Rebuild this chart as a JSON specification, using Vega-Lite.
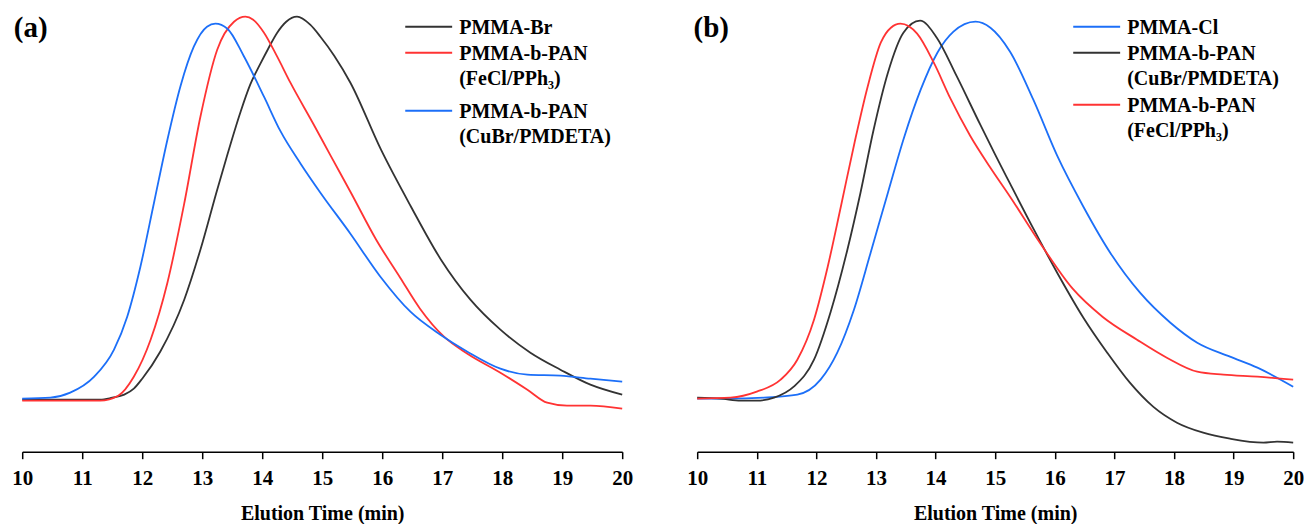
{
  "$schema": "https://vega.github.io/schema/vega-lite/v6.json",
  "padding": {"left": 11.2, "top": 11.7, "right": 0, "bottom": 0},
  "background": "white",
  "spacing": 75,
  "bounds": "flush",
  "config": {
    "view": {"stroke": null},
    "font": "Liberation Serif",
    "axis": {
      "domainColor": "black", "domainWidth": 1.5,
      "tickColor": "black", "tickWidth": 1.5, "tickSize": 7,
      "labelFont": "Liberation Serif", "labelFontSize": 21, "labelFontWeight": "bold", "labelColor": "black",
      "labelPadding": 9, "labelFlush": false, "labelOverlap": false,
      "titleFont": "Liberation Serif", "titleFontSize": 20, "titleFontWeight": "bold", "titleColor": "black",
      "titlePadding": 15, "grid": false
    },
    "legend": {
      "orient": "none", "title": null, "padding": 0,
      "symbolType": "stroke", "symbolSize": 2200, "symbolStrokeWidth": 2,
      "labelFont": "Liberation Serif", "labelFontSize": 20, "labelFontWeight": "bold", "labelColor": "black",
      "labelBaseline": "top", "labelOffset": 6, "labelLimit": 300, "rowPadding": 5
    }
  },
  "datasets": {
    "a": [
      {"series": "PMMA-Br", "t": 10, "v": 52}, {"series": "PMMA-Br", "t": 10.5, "v": 52}, {"series": "PMMA-Br", "t": 11, "v": 52}, {"series": "PMMA-Br", "t": 11.3, "v": 52}, {"series": "PMMA-Br", "t": 11.5, "v": 54}, {"series": "PMMA-Br", "t": 11.7, "v": 57}, {"series": "PMMA-Br", "t": 11.86, "v": 63}, {"series": "PMMA-Br", "t": 12, "v": 73}, {"series": "PMMA-Br", "t": 12.3, "v": 100}, {"series": "PMMA-Br", "t": 12.7, "v": 152}, {"series": "PMMA-Br", "t": 12.97, "v": 202}, {"series": "PMMA-Br", "t": 13.25, "v": 262}, {"series": "PMMA-Br", "t": 13.4, "v": 293}, {"series": "PMMA-Br", "t": 13.64, "v": 340}, {"series": "PMMA-Br", "t": 13.8, "v": 367}, {"series": "PMMA-Br", "t": 13.97, "v": 388}, {"series": "PMMA-Br", "t": 14.1, "v": 403}, {"series": "PMMA-Br", "t": 14.25, "v": 419}, {"series": "PMMA-Br", "t": 14.4, "v": 430}, {"series": "PMMA-Br", "t": 14.58, "v": 435}, {"series": "PMMA-Br", "t": 14.8, "v": 427}, {"series": "PMMA-Br", "t": 14.97, "v": 415}, {"series": "PMMA-Br", "t": 15.2, "v": 396}, {"series": "PMMA-Br", "t": 15.47, "v": 369}, {"series": "PMMA-Br", "t": 15.98, "v": 302}, {"series": "PMMA-Br", "t": 16.48, "v": 245}, {"series": "PMMA-Br", "t": 16.98, "v": 192}, {"series": "PMMA-Br", "t": 17.47, "v": 152}, {"series": "PMMA-Br", "t": 17.97, "v": 122}, {"series": "PMMA-Br", "t": 18.47, "v": 99}, {"series": "PMMA-Br", "t": 18.97, "v": 82}, {"series": "PMMA-Br", "t": 19.47, "v": 67}, {"series": "PMMA-Br", "t": 20, "v": 57},

      {"series": "PMMA-b-PAN|(FeCl/PPh₃)", "t": 10, "v": 51}, {"series": "PMMA-b-PAN|(FeCl/PPh₃)", "t": 10.5, "v": 51}, {"series": "PMMA-b-PAN|(FeCl/PPh₃)", "t": 11, "v": 51}, {"series": "PMMA-b-PAN|(FeCl/PPh₃)", "t": 11.3, "v": 51}, {"series": "PMMA-b-PAN|(FeCl/PPh₃)", "t": 11.6, "v": 56}, {"series": "PMMA-b-PAN|(FeCl/PPh₃)", "t": 11.86, "v": 75}, {"series": "PMMA-b-PAN|(FeCl/PPh₃)", "t": 12.14, "v": 112}, {"series": "PMMA-b-PAN|(FeCl/PPh₃)", "t": 12.42, "v": 169}, {"series": "PMMA-b-PAN|(FeCl/PPh₃)", "t": 12.7, "v": 248}, {"series": "PMMA-b-PAN|(FeCl/PPh₃)", "t": 12.97, "v": 335}, {"series": "PMMA-b-PAN|(FeCl/PPh₃)", "t": 13.25, "v": 402}, {"series": "PMMA-b-PAN|(FeCl/PPh₃)", "t": 13.53, "v": 430}, {"series": "PMMA-b-PAN|(FeCl/PPh₃)", "t": 13.72, "v": 435}, {"series": "PMMA-b-PAN|(FeCl/PPh₃)", "t": 13.85, "v": 432}, {"series": "PMMA-b-PAN|(FeCl/PPh₃)", "t": 14.03, "v": 419}, {"series": "PMMA-b-PAN|(FeCl/PPh₃)", "t": 14.25, "v": 395}, {"series": "PMMA-b-PAN|(FeCl/PPh₃)", "t": 14.47, "v": 369}, {"series": "PMMA-b-PAN|(FeCl/PPh₃)", "t": 14.86, "v": 327}, {"series": "PMMA-b-PAN|(FeCl/PPh₃)", "t": 15.14, "v": 296}, {"series": "PMMA-b-PAN|(FeCl/PPh₃)", "t": 15.47, "v": 260}, {"series": "PMMA-b-PAN|(FeCl/PPh₃)", "t": 15.9, "v": 212}, {"series": "PMMA-b-PAN|(FeCl/PPh₃)", "t": 16.3, "v": 174}, {"series": "PMMA-b-PAN|(FeCl/PPh₃)", "t": 16.63, "v": 143}, {"series": "PMMA-b-PAN|(FeCl/PPh₃)", "t": 17.03, "v": 115}, {"series": "PMMA-b-PAN|(FeCl/PPh₃)", "t": 17.42, "v": 98}, {"series": "PMMA-b-PAN|(FeCl/PPh₃)", "t": 17.97, "v": 79}, {"series": "PMMA-b-PAN|(FeCl/PPh₃)", "t": 18.42, "v": 62}, {"series": "PMMA-b-PAN|(FeCl/PPh₃)", "t": 18.75, "v": 49}, {"series": "PMMA-b-PAN|(FeCl/PPh₃)", "t": 19.08, "v": 46}, {"series": "PMMA-b-PAN|(FeCl/PPh₃)", "t": 19.47, "v": 46}, {"series": "PMMA-b-PAN|(FeCl/PPh₃)", "t": 20, "v": 43},

      {"series": "PMMA-b-PAN|(CuBr/PMDETA)", "t": 10, "v": 53}, {"series": "PMMA-b-PAN|(CuBr/PMDETA)", "t": 10.47, "v": 54}, {"series": "PMMA-b-PAN|(CuBr/PMDETA)", "t": 10.8, "v": 59}, {"series": "PMMA-b-PAN|(CuBr/PMDETA)", "t": 11.2, "v": 75}, {"series": "PMMA-b-PAN|(CuBr/PMDETA)", "t": 11.53, "v": 102}, {"series": "PMMA-b-PAN|(CuBr/PMDETA)", "t": 11.75, "v": 135}, {"series": "PMMA-b-PAN|(CuBr/PMDETA)", "t": 11.97, "v": 185}, {"series": "PMMA-b-PAN|(CuBr/PMDETA)", "t": 12.2, "v": 250}, {"series": "PMMA-b-PAN|(CuBr/PMDETA)", "t": 12.42, "v": 312}, {"series": "PMMA-b-PAN|(CuBr/PMDETA)", "t": 12.64, "v": 366}, {"series": "PMMA-b-PAN|(CuBr/PMDETA)", "t": 12.86, "v": 405}, {"series": "PMMA-b-PAN|(CuBr/PMDETA)", "t": 13.08, "v": 425}, {"series": "PMMA-b-PAN|(CuBr/PMDETA)", "t": 13.22, "v": 428}, {"series": "PMMA-b-PAN|(CuBr/PMDETA)", "t": 13.42, "v": 423}, {"series": "PMMA-b-PAN|(CuBr/PMDETA)", "t": 13.69, "v": 396}, {"series": "PMMA-b-PAN|(CuBr/PMDETA)", "t": 14.03, "v": 355}, {"series": "PMMA-b-PAN|(CuBr/PMDETA)", "t": 14.3, "v": 321}, {"series": "PMMA-b-PAN|(CuBr/PMDETA)", "t": 14.64, "v": 288}, {"series": "PMMA-b-PAN|(CuBr/PMDETA)", "t": 14.97, "v": 259}, {"series": "PMMA-b-PAN|(CuBr/PMDETA)", "t": 15.47, "v": 218}, {"series": "PMMA-b-PAN|(CuBr/PMDETA)", "t": 15.97, "v": 175}, {"series": "PMMA-b-PAN|(CuBr/PMDETA)", "t": 16.47, "v": 140}, {"series": "PMMA-b-PAN|(CuBr/PMDETA)", "t": 16.97, "v": 117}, {"series": "PMMA-b-PAN|(CuBr/PMDETA)", "t": 17.42, "v": 100}, {"series": "PMMA-b-PAN|(CuBr/PMDETA)", "t": 17.97, "v": 83}, {"series": "PMMA-b-PAN|(CuBr/PMDETA)", "t": 18.42, "v": 77}, {"series": "PMMA-b-PAN|(CuBr/PMDETA)", "t": 18.97, "v": 76}, {"series": "PMMA-b-PAN|(CuBr/PMDETA)", "t": 19.47, "v": 73}, {"series": "PMMA-b-PAN|(CuBr/PMDETA)", "t": 20, "v": 70}
    ],
    "b": [
      {"series": "PMMA-Cl", "t": 10, "v": 53}, {"series": "PMMA-Cl", "t": 10.5, "v": 53}, {"series": "PMMA-Cl", "t": 11.12, "v": 54}, {"series": "PMMA-Cl", "t": 11.68, "v": 57}, {"series": "PMMA-Cl", "t": 12.07, "v": 72}, {"series": "PMMA-Cl", "t": 12.35, "v": 99}, {"series": "PMMA-Cl", "t": 12.63, "v": 142}, {"series": "PMMA-Cl", "t": 12.91, "v": 199}, {"series": "PMMA-Cl", "t": 13.2, "v": 259}, {"series": "PMMA-Cl", "t": 13.47, "v": 314}, {"series": "PMMA-Cl", "t": 13.75, "v": 362}, {"series": "PMMA-Cl", "t": 14.03, "v": 399}, {"series": "PMMA-Cl", "t": 14.3, "v": 420}, {"series": "PMMA-Cl", "t": 14.67, "v": 430}, {"series": "PMMA-Cl", "t": 14.92, "v": 424}, {"series": "PMMA-Cl", "t": 15.25, "v": 400}, {"series": "PMMA-Cl", "t": 15.64, "v": 352}, {"series": "PMMA-Cl", "t": 16.04, "v": 296}, {"series": "PMMA-Cl", "t": 16.48, "v": 245}, {"series": "PMMA-Cl", "t": 16.93, "v": 199}, {"series": "PMMA-Cl", "t": 17.43, "v": 159}, {"series": "PMMA-Cl", "t": 17.94, "v": 129}, {"series": "PMMA-Cl", "t": 18.39, "v": 109}, {"series": "PMMA-Cl", "t": 18.94, "v": 95}, {"series": "PMMA-Cl", "t": 19.4, "v": 84}, {"series": "PMMA-Cl", "t": 20, "v": 65},

      {"series": "PMMA-b-PAN|(CuBr/PMDETA)", "t": 10, "v": 54}, {"series": "PMMA-b-PAN|(CuBr/PMDETA)", "t": 10.4, "v": 53}, {"series": "PMMA-b-PAN|(CuBr/PMDETA)", "t": 10.73, "v": 51}, {"series": "PMMA-b-PAN|(CuBr/PMDETA)", "t": 11, "v": 51}, {"series": "PMMA-b-PAN|(CuBr/PMDETA)", "t": 11.29, "v": 54}, {"series": "PMMA-b-PAN|(CuBr/PMDETA)", "t": 11.62, "v": 65}, {"series": "PMMA-b-PAN|(CuBr/PMDETA)", "t": 11.96, "v": 92}, {"series": "PMMA-b-PAN|(CuBr/PMDETA)", "t": 12.24, "v": 140}, {"series": "PMMA-b-PAN|(CuBr/PMDETA)", "t": 12.52, "v": 202}, {"series": "PMMA-b-PAN|(CuBr/PMDETA)", "t": 12.74, "v": 259}, {"series": "PMMA-b-PAN|(CuBr/PMDETA)", "t": 12.96, "v": 322}, {"series": "PMMA-b-PAN|(CuBr/PMDETA)", "t": 13.2, "v": 379}, {"series": "PMMA-b-PAN|(CuBr/PMDETA)", "t": 13.46, "v": 419}, {"series": "PMMA-b-PAN|(CuBr/PMDETA)", "t": 13.74, "v": 431}, {"series": "PMMA-b-PAN|(CuBr/PMDETA)", "t": 14.02, "v": 414}, {"series": "PMMA-b-PAN|(CuBr/PMDETA)", "t": 14.35, "v": 376}, {"series": "PMMA-b-PAN|(CuBr/PMDETA)", "t": 14.75, "v": 327}, {"series": "PMMA-b-PAN|(CuBr/PMDETA)", "t": 15, "v": 297}, {"series": "PMMA-b-PAN|(CuBr/PMDETA)", "t": 15.25, "v": 268}, {"series": "PMMA-b-PAN|(CuBr/PMDETA)", "t": 15.65, "v": 222}, {"series": "PMMA-b-PAN|(CuBr/PMDETA)", "t": 16.04, "v": 179}, {"series": "PMMA-b-PAN|(CuBr/PMDETA)", "t": 16.48, "v": 134}, {"series": "PMMA-b-PAN|(CuBr/PMDETA)", "t": 16.88, "v": 99}, {"series": "PMMA-b-PAN|(CuBr/PMDETA)", "t": 17.26, "v": 69}, {"series": "PMMA-b-PAN|(CuBr/PMDETA)", "t": 17.65, "v": 45}, {"series": "PMMA-b-PAN|(CuBr/PMDETA)", "t": 18.05, "v": 29}, {"series": "PMMA-b-PAN|(CuBr/PMDETA)", "t": 18.49, "v": 19}, {"series": "PMMA-b-PAN|(CuBr/PMDETA)", "t": 18.94, "v": 13}, {"series": "PMMA-b-PAN|(CuBr/PMDETA)", "t": 19.5, "v": 9}, {"series": "PMMA-b-PAN|(CuBr/PMDETA)", "t": 19.73, "v": 10}, {"series": "PMMA-b-PAN|(CuBr/PMDETA)", "t": 20, "v": 9},

      {"series": "PMMA-b-PAN|(FeCl/PPh₃)", "t": 10, "v": 53}, {"series": "PMMA-b-PAN|(FeCl/PPh₃)", "t": 10.56, "v": 54}, {"series": "PMMA-b-PAN|(FeCl/PPh₃)", "t": 11, "v": 60}, {"series": "PMMA-b-PAN|(FeCl/PPh₃)", "t": 11.4, "v": 72}, {"series": "PMMA-b-PAN|(FeCl/PPh₃)", "t": 11.68, "v": 92}, {"series": "PMMA-b-PAN|(FeCl/PPh₃)", "t": 11.96, "v": 132}, {"series": "PMMA-b-PAN|(FeCl/PPh₃)", "t": 12.19, "v": 185}, {"series": "PMMA-b-PAN|(FeCl/PPh₃)", "t": 12.41, "v": 245}, {"series": "PMMA-b-PAN|(FeCl/PPh₃)", "t": 12.64, "v": 309}, {"series": "PMMA-b-PAN|(FeCl/PPh₃)", "t": 12.86, "v": 365}, {"series": "PMMA-b-PAN|(FeCl/PPh₃)", "t": 13.08, "v": 409}, {"series": "PMMA-b-PAN|(FeCl/PPh₃)", "t": 13.25, "v": 424}, {"series": "PMMA-b-PAN|(FeCl/PPh₃)", "t": 13.41, "v": 428}, {"series": "PMMA-b-PAN|(FeCl/PPh₃)", "t": 13.69, "v": 418}, {"series": "PMMA-b-PAN|(FeCl/PPh₃)", "t": 13.97, "v": 389}, {"series": "PMMA-b-PAN|(FeCl/PPh₃)", "t": 14.25, "v": 353}, {"series": "PMMA-b-PAN|(FeCl/PPh₃)", "t": 14.58, "v": 316}, {"series": "PMMA-b-PAN|(FeCl/PPh₃)", "t": 14.92, "v": 284}, {"series": "PMMA-b-PAN|(FeCl/PPh₃)", "t": 15.25, "v": 255}, {"series": "PMMA-b-PAN|(FeCl/PPh₃)", "t": 15.75, "v": 209}, {"series": "PMMA-b-PAN|(FeCl/PPh₃)", "t": 16.3, "v": 163}, {"series": "PMMA-b-PAN|(FeCl/PPh₃)", "t": 16.8, "v": 135}, {"series": "PMMA-b-PAN|(FeCl/PPh₃)", "t": 17.38, "v": 112}, {"series": "PMMA-b-PAN|(FeCl/PPh₃)", "t": 17.88, "v": 94}, {"series": "PMMA-b-PAN|(FeCl/PPh₃)", "t": 18.39, "v": 80}, {"series": "PMMA-b-PAN|(FeCl/PPh₃)", "t": 18.83, "v": 77}, {"series": "PMMA-b-PAN|(FeCl/PPh₃)", "t": 19.4, "v": 75}, {"series": "PMMA-b-PAN|(FeCl/PPh₃)", "t": 20, "v": 72}
    ]
  },
  "resolve": {"scale": {"color": "independent"}, "legend": {"color": "independent"}},
  "hconcat": [
    {
      "width": 600, "height": 440,
      "layer": [
        {
          "data": {"name": "a"},
          "mark": {"type": "line", "interpolate": "monotone", "strokeWidth": 1.8},
          "encoding": {
            "x": {"field": "t", "type": "quantitative", "scale": {"domain": [10, 20], "nice": false, "zero": false},
                  "axis": {"title": "Elution Time (min)", "values": [10, 11, 12, 13, 14, 15, 16, 17, 18, 19, 20], "format": "d"}},
            "y": {"field": "v", "type": "quantitative", "scale": {"domain": [0, 440], "nice": false, "zero": false}, "axis": null},
            "color": {"field": "series", "type": "nominal",
                      "scale": {"domain": ["PMMA-Br", "PMMA-b-PAN|(FeCl/PPh₃)", "PMMA-b-PAN|(CuBr/PMDETA)"], "range": ["#333333", "#ff3333", "#1c6ff8"]},
                      "legend": {"legendX": 382, "legendY": 5,
                                 "encode": {
                                   "symbols": {"update": {"y": {"signal": "datum.value === 'PMMA-b-PAN|(CuBr/PMDETA)' ? 16 : 10"}}},
                                   "labels": {"update": {"y": {"signal": "datum.value === 'PMMA-b-PAN|(CuBr/PMDETA)' ? 7 : 1"}, "text": {"signal": "split(datum.label, '|')"}, "lineHeight": {"value": 25.5}}}
                                 }}}
          }
        },
        {
          "data": {"values": [{"label": "(a)"}]},
          "mark": {"type": "text", "fontSize": 29, "fontWeight": "bold", "font": "Liberation Serif", "align": "left", "baseline": "alphabetic", "dx": -8.4, "color": "black"},
          "encoding": {"x": {"datum": 10}, "y": {"datum": 415}, "text": {"field": "label"}}
        }
      ]
    },
    {
      "width": 596, "height": 440,
      "layer": [
        {
          "data": {"name": "b"},
          "mark": {"type": "line", "interpolate": "monotone", "strokeWidth": 1.8},
          "encoding": {
            "x": {"field": "t", "type": "quantitative", "scale": {"domain": [10, 20], "nice": false, "zero": false},
                  "axis": {"title": "Elution Time (min)", "values": [10, 11, 12, 13, 14, 15, 16, 17, 18, 19, 20], "format": "d"}},
            "y": {"field": "v", "type": "quantitative", "scale": {"domain": [0, 440], "nice": false, "zero": false}, "axis": null},
            "color": {"field": "series", "type": "nominal",
                      "scale": {"domain": ["PMMA-Cl", "PMMA-b-PAN|(CuBr/PMDETA)", "PMMA-b-PAN|(FeCl/PPh₃)"], "range": ["#1c6ff8", "#333333", "#ff3333"]},
                      "legend": {"legendX": 375, "legendY": 5,
                                 "encode": {
                                   "symbols": {"update": {"y": {"value": 10}}},
                                   "labels": {"update": {"y": {"value": 1}, "text": {"signal": "split(datum.label, '|')"}, "lineHeight": {"value": 25.5}}}
                                 }}}
          }
        },
        {
          "data": {"values": [{"label": "(b)"}]},
          "mark": {"type": "text", "fontSize": 29, "fontWeight": "bold", "font": "Liberation Serif", "align": "left", "baseline": "alphabetic", "dx": -3.7, "color": "black"},
          "encoding": {"x": {"datum": 10}, "y": {"datum": 415}, "text": {"field": "label"}}
        }
      ]
    }
  ]
}
